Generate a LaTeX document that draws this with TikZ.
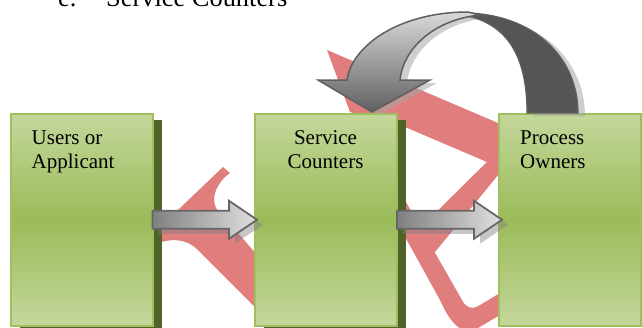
\documentclass[tikz,border=0pt]{standalone}
\usepackage{fontspec}
\setmainfont{Liberation Serif}
\usetikzlibrary{calc}
\definecolor{wm}{RGB}{224,126,126}
\definecolor{gLight}{RGB}{196,215,155}
\definecolor{gMid}{RGB}{155,187,89}
\definecolor{gBorder}{RGB}{160,192,95}
\definecolor{olivedark}{RGB}{79,98,40}
\definecolor{darkArc}{RGB}{85,85,85}
\definecolor{arcLine}{RGB}{95,95,95}
\newcommand\blkarrow[3]{\path[#3] let \p1=(#1), \p2=(#2) in
  (\x1,\y1+9pt) -- (\x2-28pt,\y1+9pt) -- (\x2-28pt,\y1+19pt) -- (\x2,\y1)
  -- (\x2-28pt,\y1-19pt) -- (\x2-28pt,\y1-9pt) -- (\x1,\y1-9pt) -- cycle;}
\begin{document}
\begin{tikzpicture}[x=1pt,y=-1pt,
  box/.style={draw=gBorder, line width=2pt, top color=gLight, bottom color=gLight,
    middle color=gMid, minimum width=142pt, minimum height=211.5pt,
    inner sep=0pt, outer sep=0pt, anchor=north west},
  boxshadow/.style={fill=olivedark},
  lbl/.style={font=\fontsize{21}{24}\selectfont, inner sep=0pt, anchor=base west},
  lblc/.style={lbl, anchor=base},
  toplbl/.style={font=\fontsize{26.4}{30}\selectfont, inner sep=0pt, anchor=base west},
  arrface/.style={draw=black!60, line width=1.8pt, line join=miter,
    left color=black!50, right color=black!12},
  arrshadow/.style={fill=black!50, opacity=0.45},
  watermark/.style={fill=wm},
  darkarc/.style={fill=darkArc, draw=arcLine, line width=1.2pt},
  lightarc/.style={draw=arcLine, line width=1.5pt, line join=miter,
    top color=black!15, bottom color=black!62},
  arcshadow/.style={fill=black!35, opacity=0.55},
]
\useasboundingbox (0,0) rectangle (642,327);

% heading (cut off at the top)
\node[toplbl] (h1) at (58,6.5) {e.};
\node[toplbl] (h2) at (106,6.5) {Service Counters};

% watermark strokes
\fill[watermark] (223,167) -- (230,173) .. controls (216,183) and (211,198) .. (216,208)
  -- (266,265) -- (266,318) -- (198,250) .. controls (189,241) and (176,237) .. (158,243)
  -- (150,243) -- (150,236) -- (158,229) -- cycle;
\fill[watermark] (327,50) -- (525,134.5) -- (525,179) -- (487,162) -- (405,127)
  -- (350,112) -- cycle;
\fill[watermark] (500,149) -- (512,149) -- (512,158) -- (435,252) -- (425,252)
  -- (407,241) -- cycle;
\fill[watermark] (394,181) -- (462,300) .. controls (466,308) and (472,310) .. (480,305)
  -- (505,290) -- (505,312) -- (478,328) .. controls (460,338) and (448,318) .. (440,300)
  -- (378,188) -- cycle;

% boxes
\node[box] (u) at (10.5,114) {};
\node[box] (s) at (255,114) {};
\node[box] (p) at (499,114) {};
\begin{pgfonlayer}{main}\end{pgfonlayer}
\fill[boxshadow] ($(u.north west)+(9,6)$) rectangle ($(u.south east)+(9,6)$);
\fill[boxshadow] ($(s.north west)+(9,6)$) rectangle ($(s.south east)+(9,6)$);
\node[box] at (u.north west) {};
\node[box] at (s.north west) {};

% labels
\node[lbl] (t1a) at (31.5,144) {Users or};
\node[lbl] (t1b) at (31.5,168) {Applicant};
\node[lblc] (t2a) at (325.5,144) {Service};
\node[lblc] (t2b) at (325.5,168) {Counters};
\node[lbl] (t3a) at (520,144) {Process};
\node[lbl] (t3b) at (520,168) {Owners};

% straight block arrows
\blkarrow{$(u.east)+(6,5)$}{$(s.west)+(8,5)$}{arrshadow}
\blkarrow{u.east}{$(s.west)+(2,0)$}{arrface}
\blkarrow{$(s.east)+(6,5)$}{$(p.west)+(9,5)$}{arrshadow}
\blkarrow{s.east}{$(p.west)+(3,0)$}{arrface}

% curved arrow from Process Owners back to Service Counters
\begin{scope}[shift={(7,3)}]
\fill[arcshadow] (455,13) .. controls (530,10) and (578,55) .. (578,113) -- (527,113)
  .. controls (527,60) and (510,28) .. (472,17) -- cycle;
\fill[arcshadow] (318,80) -- (347,80) .. controls (352,45) and (400,12) .. (468,12)
  -- (480,15) .. controls (432,20) and (403,50) .. (400,80) -- (430,80) -- (372,112) -- cycle;
\end{scope}
\path[darkarc] (455,13) .. controls (530,10) and (578,55) .. (578,113) -- (527,113)
  .. controls (527,60) and (510,28) .. (472,17) -- cycle;
\path[lightarc] (318,80) -- (347,80) .. controls (352,45) and (400,12) .. (468,12)
  -- (480,15) .. controls (432,20) and (403,50) .. (400,80) -- (430,80) -- (372,112) -- cycle;
\end{tikzpicture}
\end{document}
